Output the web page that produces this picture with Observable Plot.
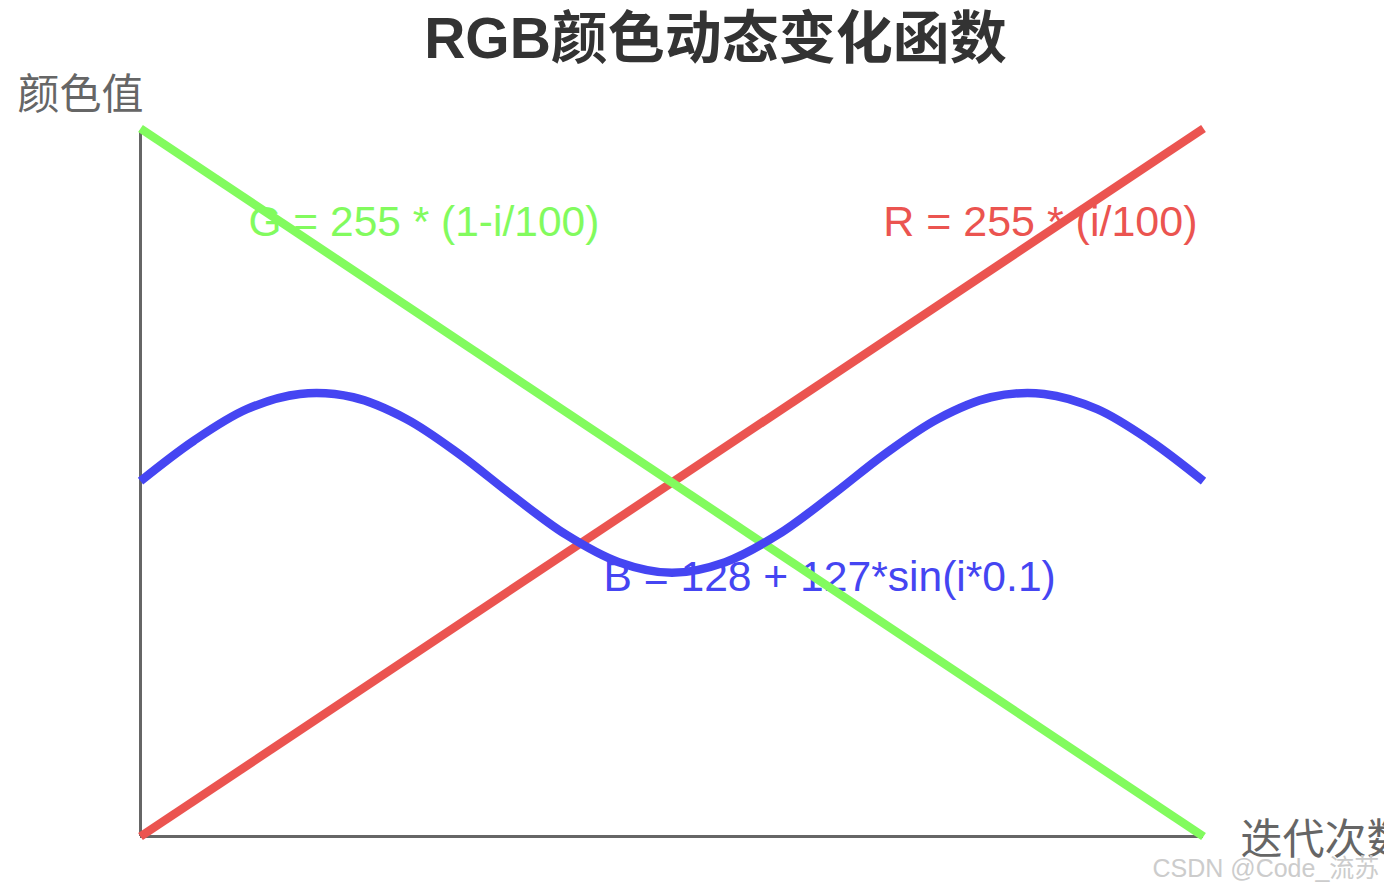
<!DOCTYPE html>
<html>
<head>
<meta charset="utf-8">
<script src="https://cdn.jsdelivr.net/npm/d3@7"></script>
<script src="https://cdn.jsdelivr.net/npm/@observablehq/plot@0.6"></script>
<style>
  html, body { margin: 0; padding: 0; background: #fff; overflow: hidden; }
  #chart svg { display: block; }
</style>
</head>
<body>
<div id="chart"></div>
<script>
// ---- Data ----
const title = "RGB颜色动态变化函数";
const yLabel = "颜色值";
const xLabel = "迭代次数";
const watermark = "CSDN @Code_流苏";

const redLabel = "R = 255 * (i/100)";
const greenLabel = "G = 255 * (1-i/100)";
const blueLabel = "B = 128 + 127*sin(i*0.1)";

// iteration i (0..100) and colour value (0..255)
const lineIter = [0, 100];
const redValues = [0, 255];
const greenValues = [255, 0];

const blueIter   = [0,   5,     10,    15,    20,    25,    30,    35,  40,    45,   50, 55,   60,    65,  70,    75,    80,    85,    90,    95,    100];
const blueValues = [128, 142.5, 153.9, 159.4, 158.2, 150.4, 137.7, 122.8, 108.8, 98.8, 95, 98.8, 108.8, 122.8, 137.7, 150.4, 158.2, 159.4, 153.9, 142.5, 128];

// ---- Build tables for Plot ----
const redData = lineIter.map((i, k) => ({i, v: redValues[k]}));
const greenData = lineIter.map((i, k) => ({i, v: greenValues[k]}));
const blueData = blueIter.map((i, k) => ({i, v: blueValues[k]}));

const RED = "#eb5450", GREEN = "#82fb5e", BLUE = "#4545f2", AXIS = "#666666";
const LATIN_CJK = "'Liberation Sans', Arial, 'Noto Sans CJK SC', sans-serif";

const chart = Plot.plot({
  width: 1384,
  height: 889,
  marginTop: 0, marginRight: 0, marginBottom: 0, marginLeft: 0,
  x: {domain: [0, 100], range: [140, 1203], axis: null},
  y: {domain: [0, 255], range: [836, 128], axis: null},
  style: {background: "#fff"},
  marks: [
    // axes
    Plot.ruleX([0], {y1: 0, y2: 254, stroke: AXIS, strokeWidth: 3}),
    Plot.ruleY([0], {x1: 0, x2: 100, stroke: AXIS, strokeWidth: 3}),
    // title & axis labels
    Plot.text([title], {text: d => d, frameAnchor: "top-left", dx: 715, dy: 57,
      textAnchor: "middle", lineAnchor: "bottom", fontSize: 57, fontWeight: "bold",
      fill: "#333333", fontFamily: LATIN_CJK}),
    Plot.text([yLabel], {text: d => d, frameAnchor: "top-left", dx: 17, dy: 108,
      textAnchor: "start", lineAnchor: "bottom", fontSize: 42, fill: "#666666",
      fontFamily: "'Noto Sans CJK SC', sans-serif"}),
    Plot.text([xLabel], {text: d => d, frameAnchor: "top-left", dx: 1240, dy: 853,
      textAnchor: "start", lineAnchor: "bottom", fontSize: 42, fill: "#666666",
      fontFamily: "'Noto Sans CJK SC', sans-serif"}),
    // formula labels
    Plot.text([greenLabel], {text: d => d, frameAnchor: "top-left", dx: 248, dy: 235,
      textAnchor: "start", lineAnchor: "bottom", fontSize: 42.5, fill: GREEN, fontFamily: LATIN_CJK}),
    Plot.text([redLabel], {text: d => d, frameAnchor: "top-left", dx: 1197, dy: 235,
      textAnchor: "end", lineAnchor: "bottom", fontSize: 43, fill: RED, fontFamily: LATIN_CJK}),
    Plot.text([blueLabel], {text: d => d, frameAnchor: "top-left", dx: 603, dy: 590,
      textAnchor: "start", lineAnchor: "bottom", fontSize: 42.6, fill: BLUE, fontFamily: LATIN_CJK}),
    // series
    Plot.line(redData, {x: "i", y: "v", stroke: RED, strokeWidth: 8.5, strokeLinecap: "butt"}),
    Plot.line(greenData, {x: "i", y: "v", stroke: GREEN, strokeWidth: 8.5, strokeLinecap: "butt"}),
    Plot.line(blueData, {x: "i", y: "v", stroke: BLUE, strokeWidth: 8.5, strokeLinecap: "butt",
      strokeLinejoin: "round", curve: "catmull-rom"}),
    // watermark
    Plot.text([watermark], {text: d => d, frameAnchor: "top-left", dx: 1152, dy: 876,
      textAnchor: "start", lineAnchor: "bottom", fontSize: 25, fill: "#cccccc",
      stroke: "#ffffff", strokeWidth: 0.5, fontFamily: LATIN_CJK})
  ]
});

document.getElementById("chart").appendChild(chart);
</script>
</body>
</html>
